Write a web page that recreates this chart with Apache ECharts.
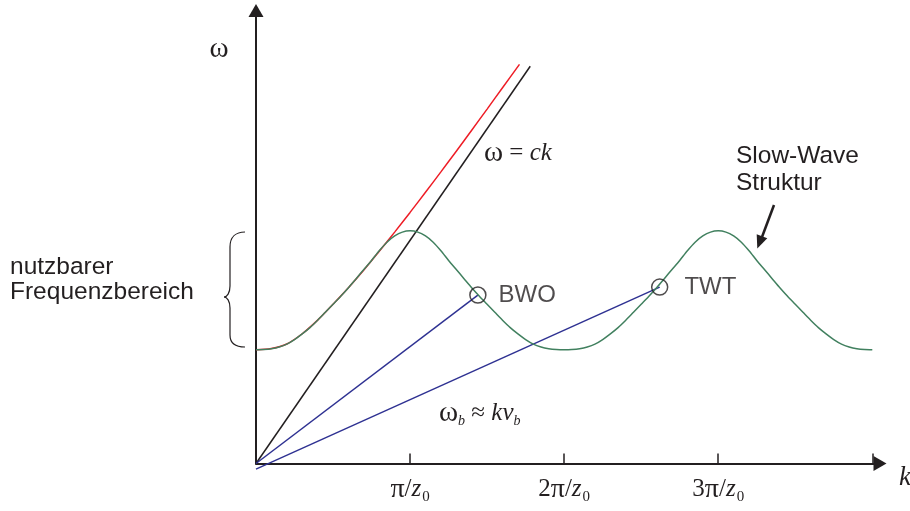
<!DOCTYPE html>
<html><head><meta charset="utf-8">
<script src="https://cdn.jsdelivr.net/npm/echarts@6/dist/echarts.min.js"></script>
<style>html,body{margin:0;padding:0;background:#fff}#c{width:910px;height:511px}</style>
</head><body><div id="c"></div>
<script>
// k in units of pi/z0, omega in units of the slow-wave minimum frequency
const kGreen = [0.00,0.05,0.10,0.15,0.20,0.25,0.30,0.35,0.40,0.45,0.50,0.55,0.60,0.65,0.70,0.75,0.80,0.85,0.90,0.95,1.00,
  1.05,1.10,1.15,1.20,1.25,1.30,1.35,1.40,1.45,1.50,1.55,1.60,1.65,1.70,1.75,1.80,1.85,1.90,1.95,2.00,
  2.05,2.10,2.15,2.20,2.25,2.30,2.35,2.40,2.45,2.50,2.55,2.60,2.65,2.70,2.75,2.80,2.85,2.90,2.95,3.00,
  3.05,3.10,3.15,3.20,3.25,3.30,3.35,3.40,3.45,3.50,3.55,3.60,3.65,3.70,3.75,3.80,3.85,3.90,3.95,4.00];
const wGreen = [1.000,1.002,1.009,1.024,1.049,1.089,1.139,1.194,1.259,1.329,1.399,1.469,1.544,1.624,1.704,1.784,1.869,1.944,1.999,2.033,2.044,
  2.033,1.999,1.944,1.869,1.784,1.704,1.624,1.544,1.469,1.399,1.329,1.259,1.194,1.139,1.089,1.049,1.024,1.009,1.002,1.000,
  1.002,1.009,1.024,1.049,1.089,1.139,1.194,1.259,1.329,1.399,1.469,1.544,1.624,1.704,1.784,1.869,1.944,1.999,2.033,2.044,
  2.033,1.999,1.944,1.869,1.784,1.704,1.624,1.544,1.469,1.399,1.329,1.259,1.194,1.139,1.089,1.049,1.024,1.009,1.002,1.000];
const kRed = [0.00,0.10,0.20,0.30,0.40,0.50,0.60,0.70,0.80,0.90,1.00,1.10,1.20,1.30,1.40,1.50,1.60,1.71];
const wRed = [1.000,1.010,1.050,1.140,1.260,1.400,1.545,1.700,1.865,2.033,2.206,2.383,2.562,2.744,2.928,3.114,3.301,3.507];
const kLight = [0.00, 1.78];
const wLight = [0.00, 3.49];
const kBWO = [0.00, 1.44];
const wBWO = [0.00, 1.48];
const kTWT = [0.00, 2.62];
const wTWT = [-0.05, 1.55];
const pointNames = ['BWO', 'TWT'];
const pointK = [1.44, 2.62];
const pointW = [1.48, 1.55];
const tickValues = [1, 2, 3, 4];
const labelValues = [1, 2, 3];
const tickPrefix = ['', '', '2', '3'];

const INK = '#231f20';
const SERIF = '"Liberation Serif", "DejaVu Serif", serif';
const SANS = '"Liberation Sans", Arial, sans-serif';
const zip = (a, b) => a.map((v, i) => [v, b[i]]);

const chart = echarts.init(document.getElementById('c'), null, {renderer: 'canvas'});

chart.setOption({
  animation: false,
  backgroundColor: '#fff',
  grid: {left: 256, right: 30, top: 10.5, bottom: 47.5},
  xAxis: {
    type: 'value', min: 0, max: 4.05, interval: 1,
    splitLine: {show: false},
    axisLine: {show: true, lineStyle: {color: INK, width: 2}, symbol: ['none', 'triangle'], symbolSize: [15, 13]},
    axisTick: {show: true, inside: true, length: 10, customValues: tickValues, lineStyle: {color: INK, width: 1.5}},
    axisLabel: {
      show: true, margin: 11, customValues: labelValues, color: INK,
      formatter: v => '{n|' + tickPrefix[v] + '}{p|π}{n|/}{z|z}{s|0}',
      rich: {
        n: {fontFamily: SERIF, fontSize: 25, color: INK, lineHeight: 30},
        p: {fontFamily: SERIF, fontSize: 28, color: INK, lineHeight: 30},
        z: {fontFamily: SERIF, fontStyle: 'italic', fontSize: 25, color: INK, lineHeight: 30},
        s: {fontFamily: SERIF, fontSize: 15, color: INK, lineHeight: 30, verticalAlign: 'bottom', padding: [8, 0, 0, 1]}
      }
    }
  },
  yAxis: {
    type: 'value', min: 0, max: 3.98,
    splitLine: {show: false},
    axisLine: {show: true, lineStyle: {color: INK, width: 2}, symbol: ['none', 'triangle'], symbolSize: [15, 13]},
    axisTick: {show: false},
    axisLabel: {show: false}
  },
  series: [
    {type: 'line', data: zip(kRed, wRed), smooth: 0.3, showSymbol: false, clip: false, z: 2,
     lineStyle: {color: '#ee1c25', width: 1.5}},
    {type: 'line', data: zip(kLight, wLight), showSymbol: false, clip: false, z: 2,
     lineStyle: {color: INK, width: 1.5}},
    {type: 'line', data: zip(kBWO, wBWO), showSymbol: false, clip: false, z: 2,
     lineStyle: {color: '#2e3192', width: 1.5}},
    {type: 'line', data: zip(kTWT, wTWT), showSymbol: false, clip: false, z: 2,
     lineStyle: {color: '#2e3192', width: 1.5}},
    {type: 'line', data: zip(kGreen, wGreen), smooth: 0.25, showSymbol: false, clip: false, z: 3,
     lineStyle: {color: '#41805f', width: 1.5}},
    {type: 'scatter', z: 5, symbol: 'circle', symbolSize: 16,
     itemStyle: {color: 'rgba(255,255,255,0)', borderColor: INK, borderWidth: 1.5},
     data: pointNames.map((n, i) => ({name: n, value: [pointK[i], pointW[i]],
       label: {distance: i === 0 ? 12 : 16}})),
     label: {show: true, position: 'right', formatter: '{b}', fontFamily: SANS, fontSize: 24, color: INK}}
  ],
  graphic: [
    {type: 'text', x: 219, y: 49, style: {text: 'ω', fontFamily: SERIF, fontSize: 29, fill: INK, align: 'center', verticalAlign: 'middle'}},
    {type: 'text', x: 899, y: 478, style: {text: 'k', fontFamily: SERIF, fontStyle: 'italic', fontSize: 27, fill: INK, align: 'left', verticalAlign: 'middle'}},
    {type: 'text', x: 484, y: 153, style: {text: '{w|ω} = {i|ck}', fontFamily: SERIF, fontSize: 25, fill: INK, align: 'left', verticalAlign: 'middle',
      rich: {w: {fontFamily: SERIF, fontSize: 29, fill: INK}, i: {fontFamily: SERIF, fontStyle: 'italic', fontSize: 25, fill: INK}}}},
    {type: 'text', x: 439, y: 413, style: {text: '{w|ω}{s|b} ≈ {i|kv}{s|b}', fontFamily: SERIF, fontSize: 25, fill: INK, align: 'left', verticalAlign: 'middle',
      rich: {w: {fontFamily: SERIF, fontSize: 29, fill: INK, lineHeight: 30},
             i: {fontFamily: SERIF, fontStyle: 'italic', fontSize: 25, fill: INK, lineHeight: 30},
             s: {fontFamily: SERIF, fontStyle: 'italic', fontSize: 14, fill: INK, lineHeight: 30, verticalAlign: 'bottom', padding: [8, 0, 0, 0]}}}},
    {type: 'text', x: 736, y: 156, style: {text: 'Slow-Wave', fontFamily: SANS, fontSize: 24.5, fill: INK, align: 'left', verticalAlign: 'middle'}},
    {type: 'text', x: 736, y: 183, style: {text: 'Struktur', fontFamily: SANS, fontSize: 24.5, fill: INK, align: 'left', verticalAlign: 'middle'}},
    {type: 'text', x: 10, y: 267, style: {text: 'nutzbarer', fontFamily: SANS, fontSize: 24.5, fill: INK, align: 'left', verticalAlign: 'middle'}},
    {type: 'text', x: 10, y: 292, style: {text: 'Frequenzbereich', fontFamily: SANS, fontSize: 24.5, fill: INK, align: 'left', verticalAlign: 'middle'}},
    // brace
    {type: 'bezierCurve', shape: {x1: 245, y1: 232, cpx1: 236, cpy1: 232, cpx2: 230, cpy2: 237, x2: 230, y2: 247}, style: {stroke: INK, lineWidth: 1.2, fill: null}},
    {type: 'line', shape: {x1: 230, y1: 247, x2: 230, y2: 286}, style: {stroke: INK, lineWidth: 1.2}},
    {type: 'bezierCurve', shape: {x1: 230, y1: 286, cpx1: 230, cpy1: 293, cpx2: 227, cpy2: 297, x2: 224, y2: 297}, style: {stroke: INK, lineWidth: 1.2, fill: null}},
    {type: 'bezierCurve', shape: {x1: 224, y1: 297, cpx1: 227, cpy1: 297, cpx2: 230, cpy2: 301, x2: 230, y2: 308}, style: {stroke: INK, lineWidth: 1.2, fill: null}},
    {type: 'line', shape: {x1: 230, y1: 308, x2: 230, y2: 335}, style: {stroke: INK, lineWidth: 1.2}},
    {type: 'bezierCurve', shape: {x1: 230, y1: 335, cpx1: 230, cpy1: 344, cpx2: 236, cpy2: 347, x2: 245, y2: 347}, style: {stroke: INK, lineWidth: 1.2, fill: null}},
    // arrow to slow-wave curve
    {type: 'line', shape: {x1: 774, y1: 205, x2: 762, y2: 237}, style: {stroke: INK, lineWidth: 2.5}},
    {type: 'polygon', shape: {points: [[757.3, 248.5], [767.3, 238.2], [756.7, 234.2]]}, style: {fill: INK}}
  ]
});
</script>
</body></html>
